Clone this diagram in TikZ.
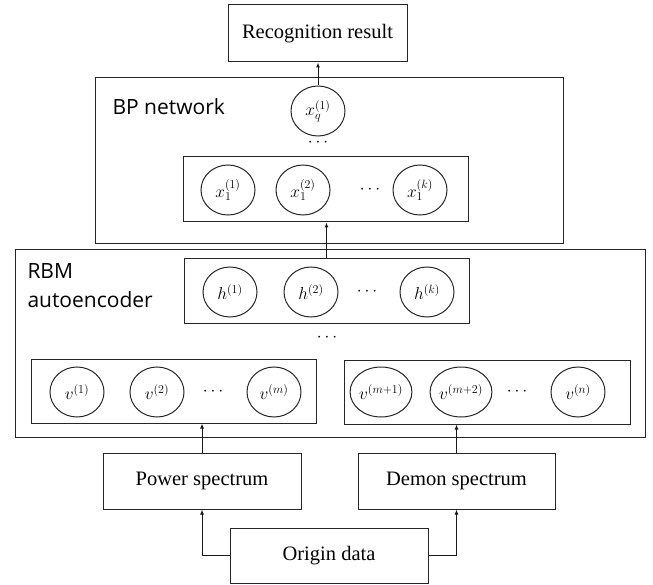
\documentclass[tikz,border=0pt]{standalone}
\usepackage{fontspec}
\setmainfont{Liberation Serif}
\newfontfamily\labsans{Open Sans}
\usetikzlibrary{arrows.meta,shapes.geometric}
\begin{document}
\begin{tikzpicture}[x=1pt,y=-1pt,
  line width=1pt,
  every node/.style={inner sep=0pt},
  box/.style={draw=black!85,rectangle},
  txtbox/.style={box,font=\fontsize{20.5}{24}\selectfont},
  unit/.style={draw=black!85,ellipse,minimum width=54pt,minimum height=50pt,font=\fontsize{18}{21}\selectfont},
  dotsn/.style={font=\fontsize{18}{21}\selectfont},
  grp/.style={font=\labsans\fontsize{21}{29}\selectfont,align=left},
  arr/.style={draw=black!90,-{Latex[length=5pt,width=4pt]}}
]
\useasboundingbox (0,0) rectangle (653,585);

% big frames
\node[box,minimum width=468pt,minimum height=166pt] (bp) at (329,161) {};
\node[box,minimum width=630pt,minimum height=187pt] (rbm) at (330,343.5) {};

% top result
\node[txtbox,minimum width=179pt,minimum height=57pt] (rec) at (317.5,33.5) {Recognition result};

% BP network
\node[grp,anchor=base west] (bplab) at (112,115) {BP network};
\node[unit] (xq) at (318,111) {$x_q^{(1)}$};
\node[dotsn] (d1) at (318,143) {$\cdots$};
\node[box,minimum width=285pt,minimum height=65pt] (x1box) at (325.5,189.5) {};
\node[unit] (x11) at (228,190) {$x_1^{(1)}$};
\node[unit] (x12) at (303,190) {$x_1^{(2)}$};
\node[dotsn] (d2) at (370,190) {$\cdots$};
\node[unit] (x1k) at (420,190) {$x_1^{(k)}$};

% RBM
\node[grp,anchor=base west] (rbml1) at (27,279) {RBM};
\node[grp,anchor=base west] (rbml2) at (27,308) {autoencoder};
\node[box,minimum width=285pt,minimum height=64pt] (hbox) at (326.5,291) {};
\node[unit] (h1) at (230,292) {$h^{(1)}$};
\node[unit] (h2) at (311,292) {$h^{(2)}$};
\node[dotsn] (d3) at (367,292) {$\cdots$};
\node[unit] (hk) at (427,292) {$h^{(k)}$};
\node[dotsn] (d4) at (327,338) {$\cdots$};

\node[box,minimum width=285pt,minimum height=64pt] (vl) at (173.5,391) {};
\node[unit] (v1) at (77,392) {$v^{(1)}$};
\node[unit] (v2) at (157,392) {$v^{(2)}$};
\node[dotsn] (d5) at (213,392) {$\cdots$};
\node[unit] (vm) at (274,392) {$v^{(m)}$};

\node[box,minimum width=286pt,minimum height=64pt] (vr) at (487,392) {};
\node[unit] (vm1) at (381,392) {$v^{(m+1)}$};
\node[unit] (vm2) at (461,392) {$v^{(m+2)}$};
\node[dotsn] (d6) at (517,392) {$\cdots$};
\node[unit] (vn) at (578,392) {$v^{(n)}$};

% inputs
\node[txtbox,minimum width=198pt,minimum height=56pt] (pow) at (202,481) {Power spectrum};
\node[txtbox,minimum width=197pt,minimum height=56pt] (dem) at (456.5,481) {Demon spectrum};
\node[txtbox,minimum width=198pt,minimum height=55pt] (org) at (329,555.5) {Origin data};

% connectors
\draw[arr] (xq.north) -- (xq.north |- rec.south);
\draw[arr] (hbox.north) -- (hbox.north |- x1box.south);
\draw[arr] (pow.north) -- (pow.north |- vl.south);
\draw[arr] (dem.north) -- (dem.north |- vr.south);
\draw[arr] (org.west) -| (pow.south);
\draw[arr] (org.east) -| (dem.south);
\end{tikzpicture}
\end{document}
